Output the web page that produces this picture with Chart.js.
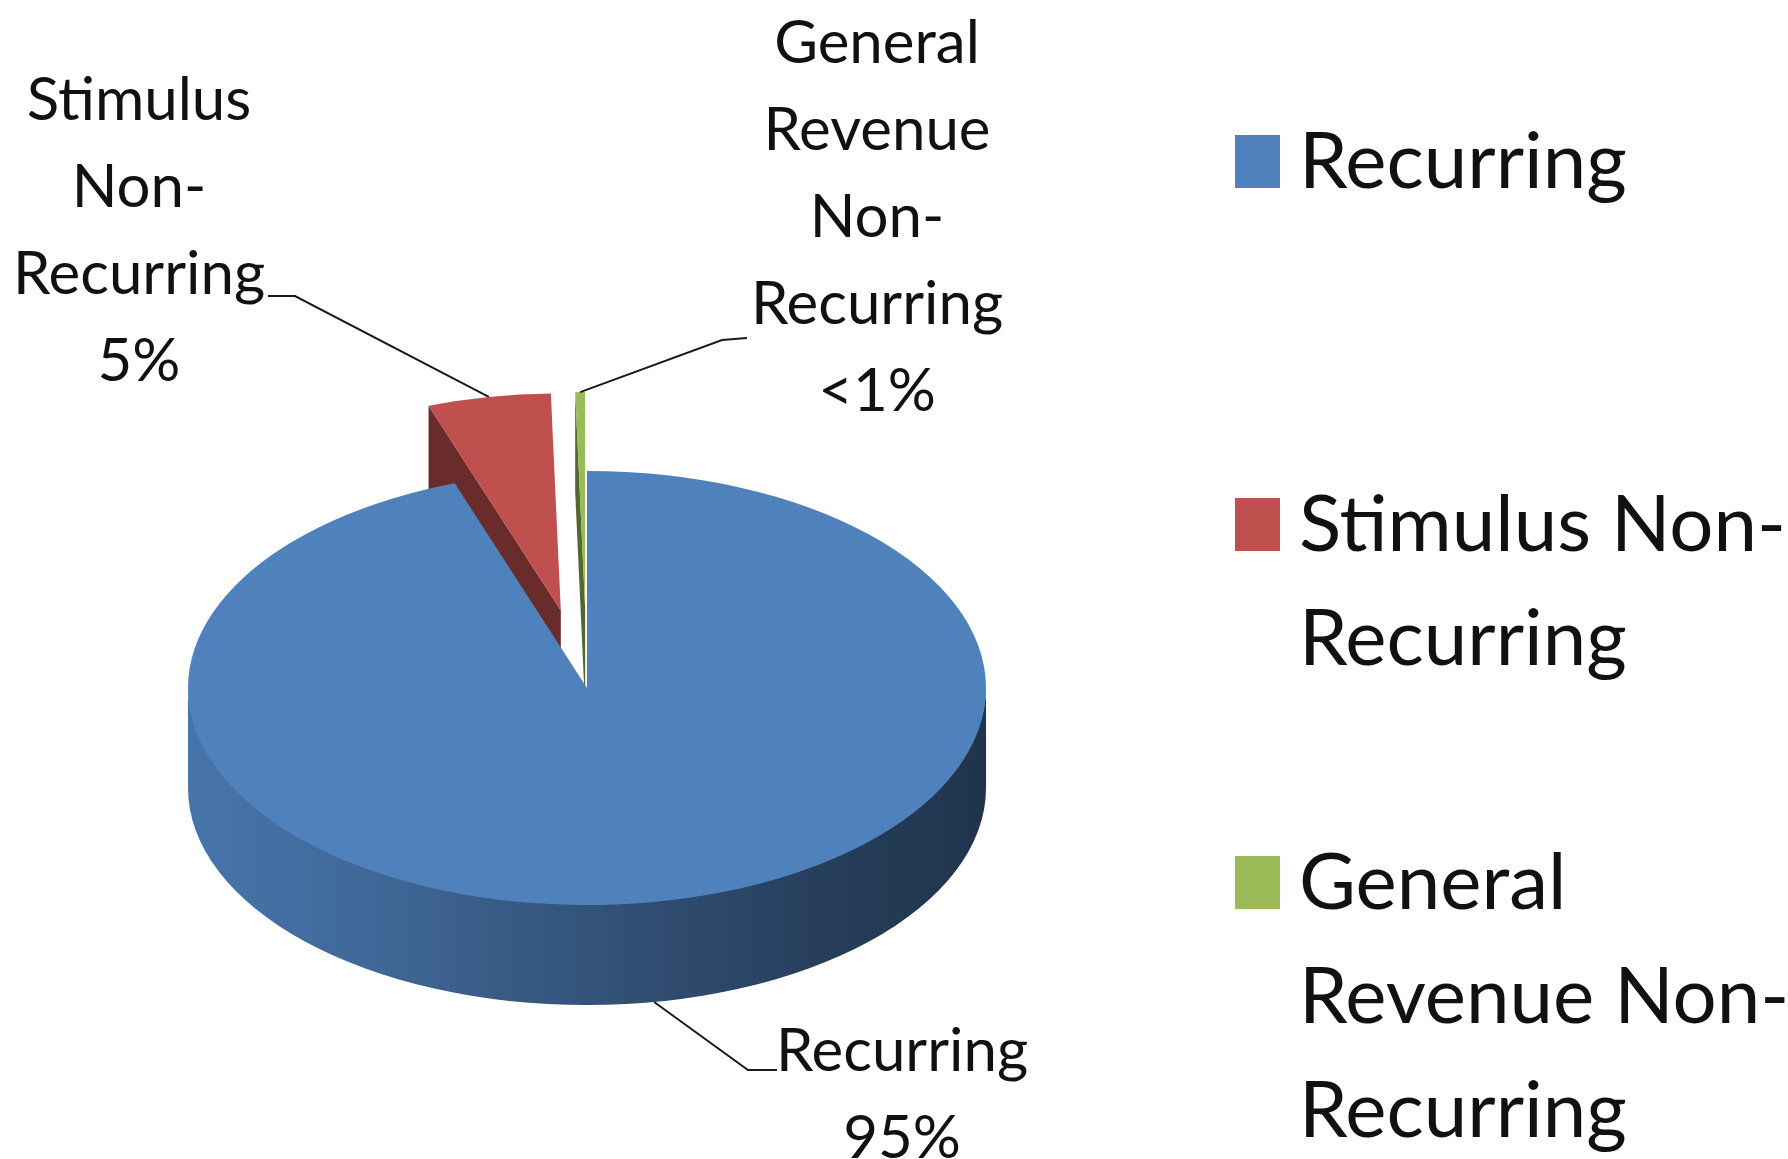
<!DOCTYPE html>
<html>
<head>
<meta charset="utf-8">
<title>Budget composition</title>
<script src="https://cdn.jsdelivr.net/npm/chart.js@4.4.1/dist/chart.umd.min.js"></script>
<style>
  html, body { margin: 0; padding: 0; background: #ffffff; }
  #wrap { width: 1788px; height: 1159px; position: relative; }
</style>
</head>
<body>
<div id="wrap"><canvas id="chart" width="1788" height="1159"></canvas></div>
<script>
// ---- data ----
const categories = ['Recurring', 'Stimulus Non-Recurring', 'General Revenue Non-Recurring'];
const shares = [95, 5, 0.4];
const sliceColors = ['#4f81bd', '#c0504d', '#9bbb59'];
const legendLines = [['Recurring'], ['Stimulus Non-', 'Recurring'], ['General', 'Revenue Non-', 'Recurring']];
const labelLines = [['Recurring'], ['Stimulus', 'Non-', 'Recurring'], ['General', 'Revenue', 'Non-', 'Recurring']];

const total = shares.reduce((a, b) => a + b, 0);
function pctText(v) {
  const p = v / total * 100;
  return p < 1 ? '<1%' : Math.round(p) + '%';
}

function shade(hex, f) {
  const n = parseInt(hex.slice(1), 16);
  const r = Math.round(((n >> 16) & 255) * f);
  const g = Math.round(((n >> 8) & 255) * f);
  const b = Math.round((n & 255) * f);
  return 'rgb(' + r + ',' + g + ',' + b + ')';
}

// geometry of every arc element, including its explode shift
function arcGeometry(chart, opts) {
  const meta = chart.getDatasetMeta(0);
  return meta.data.map((arc, i) => {
    const p = arc.getProps(['x', 'y', 'startAngle', 'endAngle', 'outerRadius'], true);
    const mid = (p.startAngle + p.endAngle) / 2;
    const e = opts.explode[i] || 0;
    return { arc, i, x: p.x, y: p.y, s: p.startAngle, t: p.endAngle, R: p.outerRadius, mid, e,
             ox: Math.cos(mid) * e, oy: Math.sin(mid) * e };
  });
}

// parts of [s,t] lying in the front half (canvas angles 0..PI)
function frontSpans(s, t) {
  const out = [];
  for (let k = -2; k <= 2; k++) {
    const a = Math.max(s, k * 2 * Math.PI), b = Math.min(t, k * 2 * Math.PI + Math.PI);
    if (b > a) out.push([a, b]);
  }
  return out;
}

// 3D tilted pie: walls and cut faces by hand, top faces via ArcElement.draw
const pie3d = {
  id: 'pie3d',
  beforeDatasetsDraw(chart, args, opts) {
    const ctx = chart.ctx;
    const k = opts.tilt, D = opts.depth;
    const geo = arcGeometry(chart, opts);
    geo.sort((a, b) => Math.sin(a.mid) - Math.sin(b.mid));
    for (const g of geo) {
      const color = g.arc.options.backgroundColor;
      const cx = g.x + g.ox, cy = g.y + g.oy * k, R = g.R, kR = R * k;

      // outer curved wall
      for (const [a0, a1] of frontSpans(g.s, g.t)) {
        ctx.save();
        ctx.beginPath();
        ctx.ellipse(cx, cy - 2, R, kR, 0, a0, a1, false);
        ctx.ellipse(cx, cy + D, R, kR, 0, a1, a0, true);
        ctx.closePath();
        const grad = ctx.createLinearGradient(cx - R, 0, cx + R, 0);
        opts.wallStops.forEach(([pos, f]) => grad.addColorStop(pos, shade(color, f)));
        ctx.fillStyle = grad;
        ctx.fill();
        ctx.restore();
      }

      // radial cut faces turned towards the viewer
      const faces = [];
      if (Math.cos(g.s) < 0) faces.push(g.s);
      if (Math.cos(g.t) > 0) faces.push(g.t);
      for (const ang of faces) {
        const px = cx + R * Math.cos(ang), py = cy + kR * Math.sin(ang);
        ctx.beginPath();
        ctx.moveTo(cx, cy);
        ctx.lineTo(px, py);
        ctx.lineTo(px, py + D);
        ctx.lineTo(cx, cy + D);
        ctx.closePath();
        ctx.fillStyle = shade(color, opts.faceShade);
        ctx.fill();
      }

      // top face: the library's own arc, drawn in a squashed frame
      ctx.save();
      ctx.translate(g.x, g.y);
      ctx.scale(1, k);
      ctx.translate(-g.x, -g.y);
      ctx.translate(g.ox, g.oy);
      g.arc.draw(ctx);
      ctx.restore();
    }
    return false;
  }
};

// data labels with leader lines, plus the legend
const annotations = {
  id: 'annotations',
  afterDraw(chart, args, opts) {
    const ctx = chart.ctx;
    const p3 = chart.options.plugins.pie3d;
    const k = p3.tilt, D = p3.depth;
    const geo = arcGeometry(chart, p3);

    ctx.save();
    ctx.fillStyle = '#111';
    ctx.strokeStyle = '#1a1a1a';
    ctx.lineWidth = 2;
    ctx.font = opts.labelFont;
    ctx.textAlign = 'center';
    ctx.textBaseline = 'alphabetic';
    geo.forEach(g => {
      const L = opts.labels[g.i];
      const front = Math.sin(g.mid) > 0;
      const ax = g.x + (g.R + g.e) * Math.cos(g.mid);
      const ay = g.y + k * (g.R + g.e) * Math.sin(g.mid) + (front ? D : 0);
      ctx.beginPath();
      ctx.moveTo(ax, ay);
      ctx.lineTo(L.elbow[0], L.elbow[1]);
      ctx.lineTo(L.end[0], L.end[1]);
      ctx.stroke();
      const lines = labelLines[g.i].concat([pctText(shares[g.i])]);
      lines.forEach((s, j) => ctx.fillText(s, L.x, L.y + j * opts.labelGap));
    });

    // legend
    const lg = opts.legend;
    ctx.font = lg.font;
    ctx.textAlign = 'left';
    categories.forEach((c, i) => {
      const base = lg.baselines[i];
      ctx.fillStyle = sliceColors[i];
      ctx.fillRect(lg.boxX, base - lg.boxH, lg.boxW, lg.boxH);
      ctx.fillStyle = '#111';
      legendLines[i].forEach((s, j) => ctx.fillText(s, lg.textX, base + j * lg.lineGap));
    });
    ctx.restore();
  }
};

new Chart(document.getElementById('chart'), {
  type: 'pie',
  data: {
    labels: categories,
    datasets: [{
      data: shares,
      backgroundColor: sliceColors,
      borderWidth: 0
    }]
  },
  options: {
    responsive: false,
    animation: false,
    events: [],
    radius: 399,
    layout: { padding: { left: 0, right: 614, top: 217, bottom: 0 } },
    plugins: {
      legend: { display: false },
      tooltip: { enabled: false },
      pie3d: {
        tilt: 0.544,
        depth: 100,
        explode: [0, 145, 145],
        faceShade: 0.55,
        wallStops: [[0, 0.9], [0.2, 0.82], [0.5, 0.64], [0.8, 0.48], [1, 0.4]]
      },
      annotations: {
        labelFont: '60px Lato',
        labelGap: 87,
        labels: [
          { x: 902, y: 1071, elbow: [748, 1070], end: [777, 1070] },
          { x: 139, y: 120, elbow: [295, 296], end: [268, 296] },
          { x: 877, y: 63, elbow: [722, 340], end: [747, 338] }
        ],
        legend: {
          font: '78px Lato',
          boxX: 1235, boxW: 45, boxH: 53,
          textX: 1299,
          baselines: [188, 551, 909],
          lineGap: 114
        }
      }
    }
  },
  plugins: [pie3d, annotations]
});
</script>
</body>
</html>
